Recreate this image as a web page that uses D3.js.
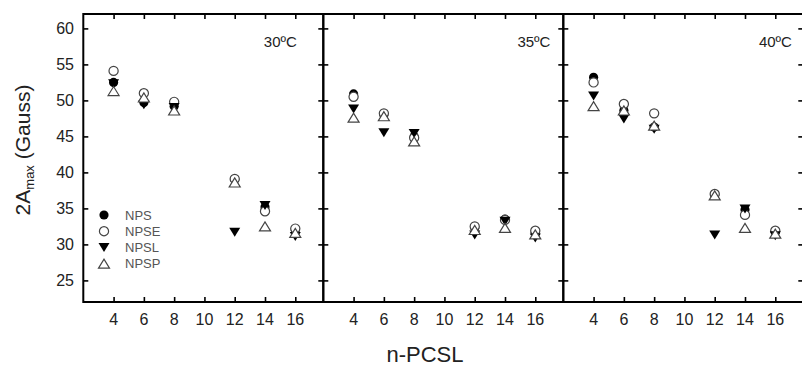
<!DOCTYPE html>
<html>
<head>
<meta charset="utf-8">
<script src="https://cdn.jsdelivr.net/npm/d3@7/dist/d3.min.js"></script>
<style>
  body { margin: 0; background: #fff; }
  svg { display: block; font-family: "Liberation Sans", Arial, sans-serif; }
</style>
</head>
<body>
<svg id="chart" width="802" height="366"></svg>
<script>
const nValues = [4, 6, 8, 12, 14, 16];
const temps = ['30ºC', '35ºC', '40ºC'];
const seriesNames = ['NPS', 'NPSE', 'NPSL', 'NPSP'];
const xTicks = [4, 6, 8, 10, 12, 14, 16];
const yTicks = [25, 30, 35, 40, 45, 50, 55, 60];

// one row per temperature, values in nValues order
const nps = [
  [52.5, 49.7, 49.2, 39.0, 35.2, 32.0],
  [50.9, 48.0, 45.0, 32.3, 33.5, 31.7],
  [53.2, 48.6, 46.3, 36.9, 34.8, 31.7]
];
const npse = [
  [54.1, 51.0, 49.8, 39.1, 34.6, 32.2],
  [50.5, 48.2, 44.8, 32.5, 33.4, 31.9],
  [52.5, 49.5, 48.2, 37.0, 34.1, 31.9]
];
const npsl = [
  [52.3, 49.4, 49.0, 31.7, 35.4, 31.1],
  [48.8, 45.5, 45.4, 31.3, 33.2, 30.9],
  [50.6, 47.4, 46.0, 31.3, 34.9, 31.2]
];
const npsp = [
  [51.3, 50.4, 48.6, 38.6, 32.5, 31.6],
  [47.6, 47.8, 44.3, 32.0, 32.3, 31.4],
  [49.2, 48.6, 46.5, 36.8, 32.3, 31.5]
];
const seriesData = [nps, npse, npsl, npsp];

const svg = d3.select('#chart');
const panelW = 240;
const plotLeft = 83.3;
const plotTop = 14;
const plotBottom = 302;
const labelPos = [16.1, 17.0, 17.1];

const y = d3.scaleLinear().domain([22, 62]).range([plotBottom, plotTop]);

function symbolPath(kind) {
  if (kind === 'NPS' || kind === 'NPSE') return d3.symbol(d3.symbolCircle, 66)();
  if (kind === 'NPSL') return 'M-5.5,-4.5L5.5,-4.5L0,4.5Z';
  return 'M-5.5,4.5L5.5,4.5L0,-4.5Z';
}
function styleMark(sel, kind) {
  const filled = kind === 'NPS' || kind === 'NPSL';
  sel.attr('d', symbolPath(kind))
    .attr('fill', filled ? '#000' : '#fff')
    .attr('stroke', filled ? 'none' : '#444')
    .attr('stroke-width', 1.2);
}

temps.forEach((t, i) => {
  const x0 = plotLeft + i * panelW;
  const x = d3.scaleLinear().domain([2, 17.85]).range([x0, x0 + panelW]);
  const g = svg.append('g');

  // inward ticks on all four sides
  g.append('g').attr('transform', `translate(0,${plotBottom})`)
    .call(d3.axisTop(x).tickValues(xTicks).tickSize(5).tickFormat(''))
    .call(a => a.select('.domain').remove());
  g.append('g').attr('transform', `translate(0,${plotTop})`)
    .call(d3.axisBottom(x).tickValues(xTicks).tickSize(5).tickFormat(''))
    .call(a => a.select('.domain').remove());
  g.append('g').attr('transform', `translate(${x0},0)`)
    .call(d3.axisRight(y).tickValues(yTicks).tickSize(5).tickFormat(''))
    .call(a => a.select('.domain').remove());
  g.append('g').attr('transform', `translate(${x0 + panelW},0)`)
    .call(d3.axisLeft(y).tickValues(yTicks).tickSize(5).tickFormat(''))
    .call(a => a.select('.domain').remove());
  g.selectAll('.tick line').attr('stroke', '#000').attr('stroke-width', 1.6);

  g.append('rect')
    .attr('x', x0).attr('y', plotTop)
    .attr('width', panelW).attr('height', plotBottom - plotTop)
    .attr('fill', 'none').attr('stroke', '#000').attr('stroke-width', 2);

  g.selectAll('text.xt').data(xTicks).enter().append('text')
    .attr('class', 'xt')
    .attr('x', d => x(d)).attr('y', 325)
    .attr('text-anchor', 'middle')
    .attr('font-size', 16).attr('fill', '#222')
    .text(d => d);

  g.append('text')
    .attr('x', x(labelPos[i])).attr('y', 47)
    .attr('text-anchor', 'end')
    .attr('font-size', 15).attr('fill', '#222')
    .text(t);

  seriesNames.forEach((name, s) => {
    const pts = nValues.map((n, k) => ({ n: n, v: seriesData[s][i][k] }));
    g.selectAll(null).data(pts).enter().append('path')
      .attr('transform', d => `translate(${x(d.n)},${y(d.v)})`)
      .call(sel => styleMark(sel, name));
  });
});

svg.selectAll('text.yt').data(yTicks).enter().append('text')
  .attr('class', 'yt')
  .attr('x', 74).attr('y', d => y(d))
  .attr('dy', '0.36em')
  .attr('text-anchor', 'end')
  .attr('font-size', 16).attr('fill', '#222')
  .text(d => d);

// legend
const legend = svg.append('g');
seriesNames.forEach((name, s) => {
  const ly = 215 + s * 16.2;
  legend.append('path')
    .attr('transform', `translate(104,${ly})`)
    .call(sel => styleMark(sel, name));
  legend.append('text')
    .attr('x', 125).attr('y', ly)
    .attr('dy', '0.36em')
    .attr('font-size', 13).attr('fill', '#555')
    .text(name);
});

svg.append('text')
  .attr('x', 425).attr('y', 362)
  .attr('text-anchor', 'middle')
  .attr('font-size', 22).attr('fill', '#222')
  .text('n-PCSL');

const yl = svg.append('text')
  .attr('transform', 'translate(30,150) rotate(-90)')
  .attr('text-anchor', 'middle')
  .attr('font-size', 21).attr('fill', '#222');
yl.append('tspan').text('2A');
yl.append('tspan').attr('font-size', 13).attr('dy', 4).text('max');
yl.append('tspan').attr('dy', -4).text(' (Gauss)');
</script>
</body>
</html>
